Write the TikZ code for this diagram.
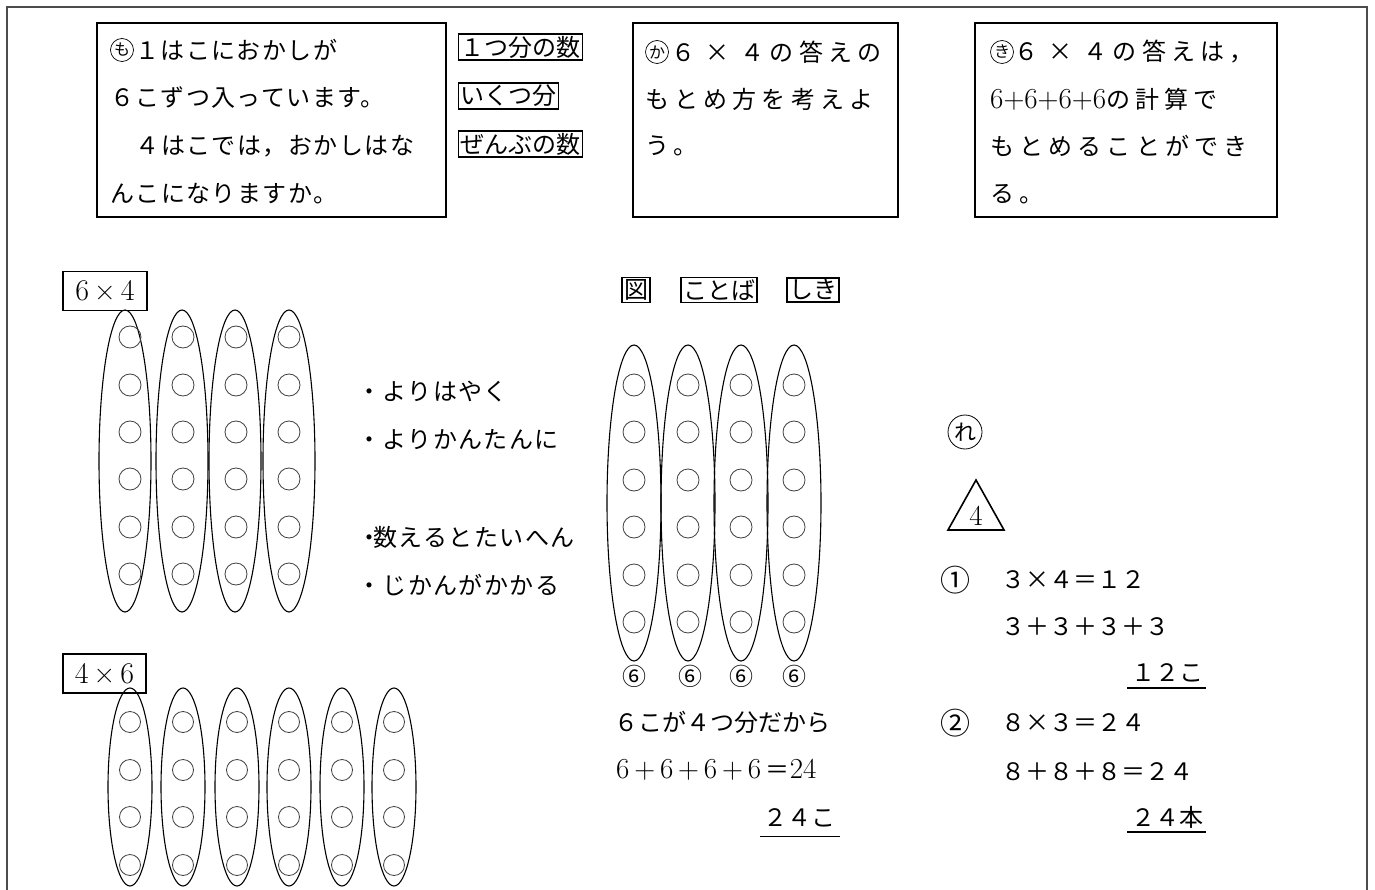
\documentclass[tikz,border=0pt]{standalone}
\usepackage{fontspec}
\newfontfamily\jp{Noto Sans CJK JP}
\newfontfamily\jpw[LetterSpace=22]{Noto Sans CJK JP}
\newfontfamily\jpm[LetterSpace=6]{Noto Sans CJK JP}
\usetikzlibrary{shapes.geometric}
\begin{document}
\begin{tikzpicture}[x=1pt,y=-1pt,
  box/.style={draw, line width=1.6pt, inner sep=0pt},
  lab/.style={draw, line width=1.4pt, inner sep=2pt, font=\jp\fontsize{24}{24}\selectfont},
  txt/.style={anchor=west, inner sep=0pt, font=\jp\fontsize{24}{24}\selectfont},
  mtxt/.style={anchor=west, inner sep=0pt, font=\jpm\fontsize{24}{24}\selectfont},
  wtxt/.style={anchor=west, inner sep=0pt, font=\jpw\fontsize{24}{24}\selectfont},
  circk/.style={circle, draw, line width=0.7pt, inner sep=0pt, minimum size=23pt, font=\jp\fontsize{16}{16}\selectfont},
  circn/.style={inner sep=0pt, font=\jp\fontsize{30}{30}\selectfont},
  six/.style={inner sep=0pt, font=\jp\fontsize{24}{24}\selectfont},
  dotc/.style={draw=black!75, line width=0.8pt},
  oval/.style={draw, line width=1.1pt},
  frame/.style={draw=black!70, line width=1.6pt},
  mbox/.style={draw, line width=1.4pt, inner sep=0pt, font=\fontsize{30}{30}\selectfont}
]
\useasboundingbox (0,0) rectangle (1375,890);
\fill[white] (0,0) rectangle (1375,890);
% outer frame
\draw[frame] (7,890) -- (7,7) -- (1367,7) -- (1367,890);

% ---- top boxes ----
\node[box, minimum width=349pt, minimum height=194pt] (q1) at (271.5,120) {};
\node[circk] (mo) at (122,50) {も};
\node[mtxt] (q1a) at (135,50) {１はこにおかしが};
\node[mtxt] (q1b) at (110,98) {６こずつ入っています。};
\node[mtxt] (q1c) at (110,146) {　４はこでは，おかしはな};
\node[mtxt] (q1d) at (110,194) {んこになりますか。};

\node[lab, anchor=west] (k1) at (458,47) {１つ分の数};
\node[lab, anchor=west] (k2) at (458,96) {いくつ分};
\node[lab, anchor=west] (k3) at (458,144) {ぜんぶの数};

\node[box, minimum width=265pt, minimum height=194pt] (q3) at (765.5,120) {};
\node[circk] (ka) at (657,52) {か};
\node[wtxt] (q3a) at (671,52) {６ × ４の答えの};
\node[wtxt] (q3b) at (645,99) {もとめ方を考えよ};
\node[wtxt] (q3c) at (645,146) {う。};

\node[box, minimum width=302pt, minimum height=194pt] (q4) at (1126,120) {};
\node[circk] (ki) at (1002,52) {き};
\node[wtxt] (q4a) at (1014,52) {６ × ４の答えは，};
\node[wtxt] (q4b) at (990,99) {{\rmfamily\fontsize{29}{29}\selectfont 6+6+6+6}の計算で};
\node[wtxt] (q4c) at (990,146) {もとめることができ};
\node[wtxt] (q4d) at (990,194) {る。};

% ---- 6x4 group ----
\node[mbox, minimum width=84pt, minimum height=39pt] (l64) at (105,291) {6\,×\,4};
\foreach \cx in {125,182,235,289} {
  \draw[oval] (\cx,461) ellipse [x radius=26pt, y radius=151pt];
}
\foreach \cx in {130,183,236,289} {
  \foreach \cy in {337,385,432,479,527,574} {
    \draw[dotc] (\cx,\cy) circle [radius=11pt];
  }
}
\node[mtxt] (b1) at (357,392) {・よりはやく};
\node[mtxt] (b2) at (357,440) {・よりかんたんに};
\node[mtxt] (b3) at (357,537) {・\hspace{-8pt}数えるとたいへん};
\node[mtxt] (b4) at (357,585) {・じかんがかかる};

% ---- 4x6 group ----
\node[mbox, minimum width=83pt, minimum height=39pt] (l46) at (104.5,673.5) {4\,×\,6};
\foreach \cx in {130,183,237,289,342,394} {
  \draw[oval] (\cx,787) ellipse [x radius=22pt, y radius=99pt];
  \foreach \cy in {722,770,817,865} {
    \draw[dotc] (\cx,\cy) circle [radius=10.5pt];
  }
}

% ---- middle group ----
\node[lab] (z1) at (636,290) {図};
\node[lab] (z2) at (719,290) {ことば};
\node[lab] (z3) at (813,290) {しき};
\foreach \cx in {634,688,741,794} {
  \draw[oval] (\cx,503) ellipse [x radius=27pt, y radius=158pt];
  \foreach \cy in {385,432,480,527,575,622} {
    \draw[dotc] (\cx,\cy) circle [radius=11pt];
  }
}
\node[six] (s1) at (634,676) {⑥};
\node[six] (s2) at (690,676) {⑥};
\node[six] (s3) at (741,676) {⑥};
\node[six] (s4) at (794,676) {⑥};
\node[txt] (m1) at (614,722) {６こが４つ分だから};
\node[txt, font=\fontsize{29}{29}\selectfont] (m2) at (616,770) {6\,+\,6\,+\,6\,+\,6\,{\jp\fontsize{24}{24}\selectfont ＝}24};
\node[txt] (m3) at (763,818) {２４こ};
\draw[line width=1.3pt] (m3.south west) ++(-3pt,-9pt) -- ++(80pt,0);

% ---- right group ----
\node[circle, draw, line width=0.8pt, minimum size=34pt, inner sep=0pt, font=\jp\fontsize{22}{22}\selectfont] (re) at (965,432) {れ};
\draw[line width=1.6pt] (948,530) -- (976,480) -- (1004,530) -- cycle;
\node[font=\fontsize{29}{29}\selectfont, inner sep=0pt] (four) at (976,516) {4};
\node[circn] (c1) at (955,580) {①};
\node[txt] (r1) at (1001,580) {３×４＝１２};
\node[txt] (r2) at (1001,627) {３＋３＋３＋３};
\node[txt] (r3) at (1131,673) {１２こ};
\draw[line width=1.3pt] (1127,688) -- (1206,688);
\node[circn] (c2) at (955,723) {②};
\node[txt] (r4) at (1001,723) {８×３＝２４};
\node[txt] (r5) at (1001,772) {８＋８＋８＝２４};
\node[txt] (r6) at (1131,817) {２４本};
\draw[line width=1.3pt] (1127,832) -- (1206,832);
\end{tikzpicture}
\end{document}
